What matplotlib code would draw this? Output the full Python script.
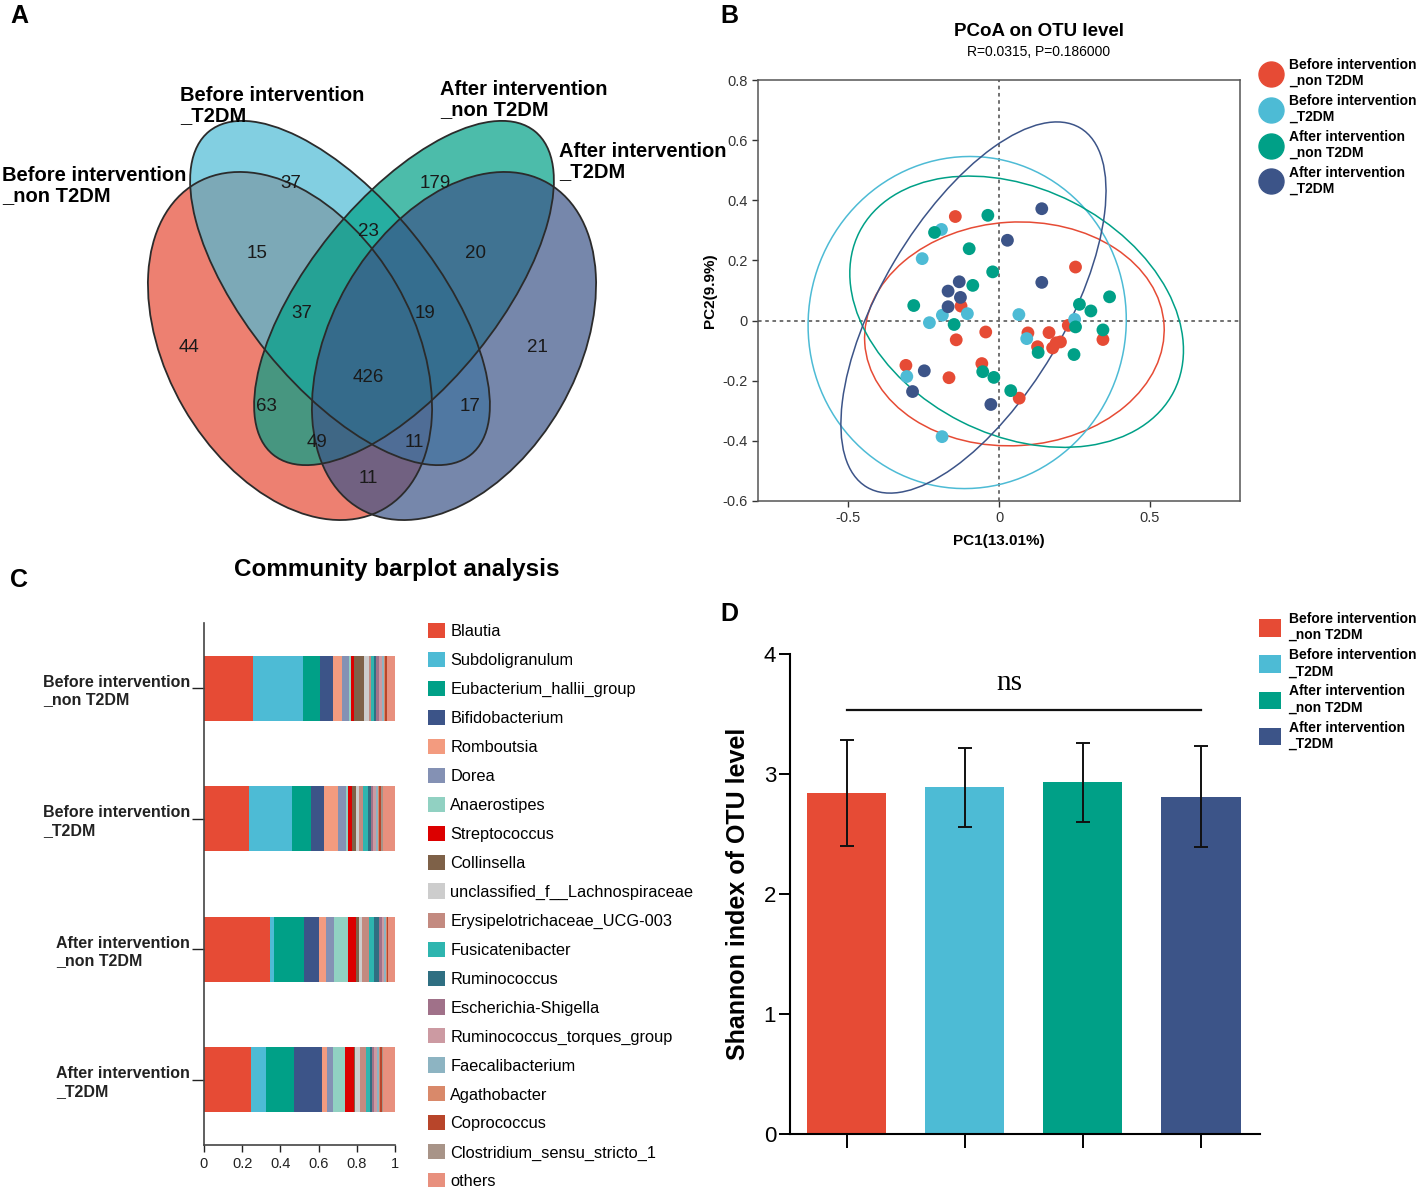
import numpy as np
import matplotlib
matplotlib.use('Agg')
import matplotlib.pyplot as plt
from matplotlib.patches import Ellipse, Patch
from matplotlib.lines import Line2D

plt.rcParams['font.family'] = ['Liberation Sans', 'DejaVu Sans']

W, H = 1419, 1187

# ---------------- data ----------------
groups = ['Before intervention\n_non T2DM', 'Before intervention\n_T2DM',
          'After intervention\n_non T2DM', 'After intervention\n_T2DM']
group_colors = ['#E64B35', '#4DBBD5', '#00A087', '#3C5488']

# venn: OTU counts per region (membership in the 4 groups)
venn_regions = ['1000', '0100', '0010', '0001', '1100', '0110', '0011', '1110',
                '0111', '1111', '1010', '0101', '1011', '1101', '1001']
venn_counts = [44, 37, 179, 21, 15, 23, 20, 37, 19, 426, 63, 17, 49, 11, 11]

# PCoA scores
pc_x = [
    [-0.145, -0.126, -0.044, -0.142, -0.309, -0.166, -0.057, 0.067, 0.096,
     0.128, 0.166, 0.178, 0.19, 0.204, 0.23, 0.254, 0.345],
    [-0.191, -0.255, -0.188, -0.231, -0.105, -0.306, -0.189, 0.066, 0.092, 0.251],
    [-0.037, -0.214, -0.099, -0.021, -0.087, -0.283, -0.149, -0.054, -0.017,
     0.039, 0.13, 0.249, 0.254, 0.267, 0.305, 0.345, 0.367],
    [0.142, 0.028, 0.142, -0.132, -0.169, -0.128, -0.169, -0.248, -0.287, -0.027],
]
pc_y = [
    [0.346, 0.048, -0.038, -0.064, -0.149, -0.19, -0.143, -0.258, -0.041,
     -0.087, -0.04, -0.091, -0.074, -0.071, -0.016, 0.178, -0.063],
    [0.303, 0.206, 0.018, -0.007, 0.023, -0.186, -0.386, 0.02, -0.06, 0.004],
    [0.35, 0.293, 0.239, 0.162, 0.117, 0.05, -0.013, -0.17, -0.189, -0.233,
     -0.106, -0.113, -0.021, 0.054, 0.032, -0.031, 0.079],
    [0.372, 0.267, 0.127, 0.129, 0.098, 0.077, 0.046, -0.167, -0.236, -0.279],
]

# community barplot
genera = ['Blautia', 'Subdoligranulum', 'Eubacterium_hallii_group', 'Bifidobacterium',
          'Romboutsia', 'Dorea', 'Anaerostipes', 'Streptococcus', 'Collinsella',
          'unclassified_f__Lachnospiraceae', 'Erysipelotrichaceae_UCG-003',
          'Fusicatenibacter', 'Ruminococcus', 'Escherichia-Shigella',
          'Ruminococcus_torques_group', 'Faecalibacterium', 'Agathobacter',
          'Coprococcus', 'Clostridium_sensu_stricto_1', 'others']
genus_colors = ['#E64B35', '#4DBBD5', '#00A087', '#3C5488', '#F39B7F', '#8491B4',
                '#91D1C2', '#DC0000', '#7E6148', '#CDCDCD', '#C38A80', '#2EB5AF',
                '#2F6F82', '#A07189', '#CC9AA2', '#8DB4C2', '#D9896A', '#B8452A',
                '#A89488', '#E8907E']
ab_before_non = [0.255, 0.262, 0.090, 0.070, 0.047, 0.037, 0.007, 0.019, 0.051, 0.026,
                 0.010, 0.016, 0.011, 0.014, 0.015, 0.012, 0.007, 0.007, 0.004, 0.040]
ab_before_t2dm = [0.237, 0.222, 0.103, 0.066, 0.072, 0.042, 0.010, 0.021, 0.021, 0.018,
                  0.019, 0.029, 0.013, 0.010, 0.018, 0.012, 0.005, 0.009, 0.008, 0.065]
ab_after_non = [0.346, 0.020, 0.158, 0.080, 0.035, 0.043, 0.070, 0.044, 0.014, 0.019,
                0.037, 0.024, 0.028, 0.016, 0.010, 0.009, 0.005, 0.004, 0.003, 0.035]
ab_after_t2dm = [0.248, 0.075, 0.148, 0.149, 0.022, 0.035, 0.061, 0.047, 0.007, 0.025,
                 0.029, 0.023, 0.012, 0.009, 0.014, 0.012, 0.007, 0.009, 0.007, 0.061]

# shannon index
shannon_mean = [2.84, 2.89, 2.93, 2.81]
shannon_sd = [0.44, 0.33, 0.33, 0.42]


def ax_px(fig, l, t, r, b):
    '''add axes from pixel box (top-left origin)'''
    return fig.add_axes([l / W, 1 - b / H, (r - l) / W, (b - t) / H])


fig = plt.figure(figsize=(W / 100, H / 100), dpi=100)

# panel letters
for letter, (px, py) in zip('ABCD', [(10, 16), (720, 16), (10, 580), (720, 614)]):
    fig.text(px / W, 1 - py / H, letter, fontsize=18, fontweight='bold',
             ha='left', va='center')

# ---------------- A: venn ----------------
ax_a = ax_px(fig, 0, 0, 740, 530)
ax_a.set_xlim(0, 740)
ax_a.set_ylim(530, 0)
ax_a.axis('off')

# ellipse layout in pixels: center, semi-minor, semi-major, angle
venn_shapes = [((290, 346), 123, 188, -30), ((340, 293), 94, 208, -39),
               ((404, 293), 94, 208, 39), ((454, 346), 123, 188, 30)]
for (c, bmin, amaj, ang), col in zip(venn_shapes, group_colors):
    ax_a.add_patch(Ellipse(c, 2 * bmin, 2 * amaj, angle=ang, facecolor=col,
                           alpha=0.7, edgecolor='none'))
for (c, bmin, amaj, ang) in venn_shapes:
    ax_a.add_patch(Ellipse(c, 2 * bmin, 2 * amaj, angle=ang, facecolor='none',
                           edgecolor='#2b2b2b', lw=1.3))

venn_label_xy = {'1000': (189, 348), '0100': (291, 183), '0010': (435, 183),
                 '0001': (537, 348), '1100': (257, 254), '0110': (368, 231),
                 '0011': (476, 254), '1110': (302, 313), '0111': (425, 313),
                 '1111': (368, 378), '1010': (266, 407), '0101': (470, 407),
                 '1011': (317, 443), '1101': (414, 443), '1001': (368, 479)}
for reg, cnt in zip(venn_regions, venn_counts):
    x, y = venn_label_xy[reg]
    ax_a.text(x, y, str(cnt), fontsize=13.5, ha='center', va='center', color='#1a1a1a')

venn_title_xy = [(2, 166), (180, 86), (440, 80), (559, 142)]
for (x, y), g in zip(venn_title_xy, groups):
    ax_a.text(x, y, g, fontsize=14.5, fontweight='bold', ha='left', va='top',
              linespacing=1.1)

# ---------------- B: PCoA ----------------
ax_b = ax_px(fig, 758, 80, 1240, 501)


def conf_ellipse(ax, x, y, color):
    x = np.asarray(x)
    y = np.asarray(y)
    m = len(x) - 1
    fq = m / 2 * (0.05 ** (-2 / m) - 1)   # F(0.95; 2, n-1)
    r = np.sqrt(2 * fq)
    vals, vecs = np.linalg.eigh(np.cov(x, y))
    angle = np.degrees(np.arctan2(vecs[1, 1], vecs[0, 1]))
    ax.add_patch(Ellipse((x.mean(), y.mean()), 2 * r * np.sqrt(vals[1]),
                         2 * r * np.sqrt(vals[0]), angle=angle, fill=False,
                         edgecolor=color, lw=1.1))


ax_b.axhline(0, color='#666666', ls=(0, (2, 2)), lw=1.3, zorder=1)
ax_b.axvline(0, color='#666666', ls=(0, (2, 2)), lw=1.3, zorder=1)
for xs, ys, col in zip(pc_x, pc_y, group_colors):
    conf_ellipse(ax_b, xs, ys, col)
for xs, ys, col in zip(pc_x, pc_y, group_colors):
    ax_b.scatter(xs, ys, s=85, color=col, edgecolors='none', zorder=3)

ax_b.set_xlim(-0.8, 0.8)
ax_b.set_ylim(-0.6, 0.8)
ax_b.set_xticks([-0.5, 0, 0.5], ['-0.5', '0', '0.5'])
yt = [-0.6, -0.4, -0.2, 0, 0.2, 0.4, 0.6, 0.8]
ax_b.set_yticks(yt, ['-0.6', '-0.4', '-0.2', '0', '0.2', '0.4', '0.6', '0.8'])
ax_b.tick_params(labelsize=10.5, colors='#333333', length=4, width=1)
for sp in ax_b.spines.values():
    sp.set_color('#555555')
    sp.set_linewidth(1.1)
ax_b.set_xlabel('PC1(13.01%)', fontsize=11, fontweight='bold', labelpad=6)
ax_b.set_ylabel('PC2(9.9%)', fontsize=11, fontweight='bold', labelpad=4)
fig.text(1039 / W, 1 - 32 / H, 'PCoA on OTU level', fontsize=13.5,
         fontweight='bold', ha='center', va='center')
fig.text(1039 / W, 1 - 52 / H, 'R=0.0315, P=0.186000', fontsize=10,
         ha='center', va='center')

b_handles = [Line2D([], [], ls='none', marker='o', markersize=18, color=c)
             for c in group_colors]
fig.legend(b_handles, groups, loc='upper left', bbox_to_anchor=(1260 / W, 1 - 58 / H),
           bbox_transform=fig.transFigure, frameon=False, borderpad=0,
           borderaxespad=0, handlelength=1.6, handletextpad=0.5,
           labelspacing=0.41, prop={'weight': 'bold', 'size': 10})

# ---------------- C: community barplot ----------------
ax_c = ax_px(fig, 204, 623, 395, 1145)
abund = np.array([ab_before_non, ab_before_t2dm, ab_after_non, ab_after_t2dm])
rows = np.arange(len(groups))
left = np.zeros(len(groups))
for j, (gname, col) in enumerate(zip(genera, genus_colors)):
    ax_c.barh(rows, abund[:, j], left=left, height=0.5, color=col, label=gname,
              linewidth=0)
    left += abund[:, j]
ax_c.set_xlim(0, 1)
ax_c.set_ylim(3.5, -0.5)
ax_c.set_xticks([0, 0.2, 0.4, 0.6, 0.8, 1], ['0', '0.2', '0.4', '0.6', '0.8', '1'])
ax_c.set_yticks(rows, groups)
for lab in ax_c.get_yticklabels():
    lab.set_multialignment('left')
    lab.set_fontweight('bold')
ax_c.tick_params(axis='y', labelsize=11.5, length=9, pad=1, width=1, colors='#222222')
ax_c.tick_params(axis='x', labelsize=10.5, length=5, width=1, colors='#222222')
for sp in ['top', 'right']:
    ax_c.spines[sp].set_visible(False)
for sp in ['left', 'bottom']:
    ax_c.spines[sp].set_color('#444444')
    ax_c.spines[sp].set_linewidth(1.2)
fig.text(397 / W, 1 - 570 / H, 'Community barplot analysis', fontsize=17.5,
         fontweight='bold', ha='center', va='center')

c_handles = [Patch(facecolor=c, edgecolor='none') for c in genus_colors]
fig.legend(c_handles, genera, loc='upper left', bbox_to_anchor=(428 / W, 1 - 623 / H),
           bbox_transform=fig.transFigure, frameon=False, borderpad=0,
           borderaxespad=0, handlelength=1.04, handleheight=1.04,
           handletextpad=0.33, labelspacing=0.78, fontsize=11.8)

# ---------------- D: shannon ----------------
ax_d = ax_px(fig, 790, 654, 1260, 1134)
xpos = np.arange(len(groups))
ax_d.bar(xpos, shannon_mean, width=0.67, color=group_colors, linewidth=0)
ax_d.errorbar(xpos, shannon_mean, yerr=shannon_sd, fmt='none', ecolor='#111111',
              elinewidth=1.4, capsize=5, capthick=1.4)
ax_d.plot([0, 3], [3.53, 3.53], color='#111111', lw=1.6)
ax_d.text(1.38, 3.76, 'ns', fontsize=21, ha='center', va='center',
          family=['Liberation Serif', 'DejaVu Serif'])
ax_d.set_xlim(-0.48, 3.5)
ax_d.set_ylim(0, 4)
ax_d.set_xticks(xpos, [''] * len(groups))
ax_d.set_yticks([0, 1, 2, 3, 4])
ax_d.tick_params(axis='y', labelsize=16, length=8, width=1.4, pad=2)
ax_d.tick_params(axis='x', length=10, width=1.4)
for sp in ['top', 'right']:
    ax_d.spines[sp].set_visible(False)
for sp in ['left', 'bottom']:
    ax_d.spines[sp].set_linewidth(1.5)
ax_d.set_ylabel('Shannon index of OTU level', fontsize=18, fontweight='bold',
                labelpad=10)

d_handles = [Patch(facecolor=c, edgecolor='none') for c in group_colors]
fig.legend(d_handles, groups, loc='upper left', bbox_to_anchor=(1259 / W, 1 - 612 / H),
           bbox_transform=fig.transFigure, frameon=False, borderpad=0,
           borderaxespad=0, handlelength=1.58, handleheight=1.58,
           handletextpad=0.55, labelspacing=0.43, prop={'weight': 'bold', 'size': 10})

fig.savefig('out.png', dpi=100)
